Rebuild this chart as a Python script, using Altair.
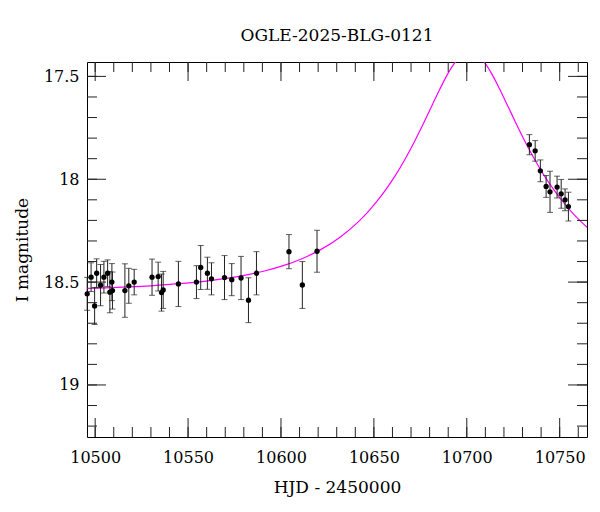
import altair as alt
import pandas as pd

TITLE = "OGLE-2025-BLG-0121"
X_TITLE = "HJD - 2450000"
Y_TITLE = "I magnitude"
FONT = "DejaVu Serif"

obs_hjd = [10495.7, 10497.8, 10499.7, 10500.8, 10502.9, 10504.7, 10506.7, 10507.9,
           10509.0, 10509.3, 10516.0, 10518.1, 10521.0, 10530.6, 10533.9, 10535.7,
           10536.6, 10544.8, 10554.5, 10556.8, 10560.4, 10562.6, 10569.6, 10573.5,
           10578.5, 10582.5, 10586.8, 10604.3, 10611.5, 10619.4,
           10733.7, 10736.8, 10739.6, 10742.7, 10744.8, 10748.6, 10750.8, 10752.9, 10754.7]
obs_mag = [18.557, 18.476, 18.616, 18.457, 18.515, 18.476, 18.457, 18.549,
           18.500, 18.541, 18.541, 18.518, 18.500, 18.476, 18.473, 18.551,
           18.538, 18.509, 18.500, 18.429, 18.457, 18.484, 18.478, 18.488,
           18.480, 18.588, 18.457, 18.352, 18.514, 18.350,
           17.832, 17.862, 17.959, 18.035, 18.061, 18.038, 18.071, 18.100, 18.133]
obs_err = [0.080, 0.070, 0.090, 0.070, 0.100, 0.077, 0.065, 0.100,
           0.090, 0.090, 0.130, 0.085, 0.062, 0.088, 0.070, 0.090,
           0.090, 0.110, 0.080, 0.107, 0.078, 0.078, 0.107, 0.078,
           0.105, 0.109, 0.105, 0.083, 0.114, 0.102,
           0.049, 0.050, 0.053, 0.053, 0.100, 0.053, 0.070, 0.053, 0.070]

# model curve
model_hjd = [10495.0, 10501.6, 10511.6, 10521.6, 10531.6, 10541.6, 10551.6, 10561.6,
             10571.6, 10581.6, 10591.6, 10601.6, 10611.6, 10621.6, 10631.6, 10641.6,
             10646.6, 10651.6, 10656.6, 10661.6, 10666.6, 10671.6, 10676.6, 10681.6,
             10685.6, 10689.6, 10693.6, 10697.6, 10701.6, 10705.6, 10709.6, 10713.6,
             10717.6, 10721.6, 10726.6, 10731.6, 10736.6, 10741.6, 10746.6, 10751.6,
             10756.6, 10761.6, 10765.0]
model_mag = [18.531, 18.529, 18.526, 18.522, 18.517, 18.510, 18.503, 18.493,
             18.481, 18.465, 18.445, 18.419, 18.385, 18.341, 18.283, 18.207,
             18.161, 18.108, 18.048, 17.981, 17.905, 17.821, 17.730, 17.635,
             17.560, 17.490, 17.433, 17.394, 17.381, 17.394, 17.433, 17.490,
             17.560, 17.635, 17.730, 17.821, 17.905, 17.981, 18.048, 18.108,
             18.161, 18.207, 18.235]

x_major = [10500, 10550, 10600, 10650, 10700, 10750]
x_minor = [10500, 10510, 10520, 10530, 10540, 10550, 10560, 10570, 10580, 10590,
           10600, 10610, 10620, 10630, 10640, 10650, 10660, 10670, 10680, 10690,
           10700, 10710, 10720, 10730, 10740, 10750, 10760]
y_major = [17.5, 18.0, 18.5, 19.0]
y_minor = [17.5, 17.6, 17.7, 17.8, 17.9, 18.0, 18.1, 18.2, 18.3, 18.4, 18.5,
           18.6, 18.7, 18.8, 18.9, 19.0, 19.1, 19.2]

W, H = 500, 375
MAJ, MIN = 19, 10

obs = pd.DataFrame({"t": obs_hjd, "m": obs_mag, "e": obs_err})
obs["lo"] = obs["m"] - obs["e"]
obs["hi"] = obs["m"] + obs["e"]
model = pd.DataFrame({"t": model_hjd, "m": model_mag})

xs = alt.Scale(domain=[10495.6, 10764.7], nice=False, zero=False)
ys = alt.Scale(domain=[17.43, 19.253], reverse=True, nice=False, zero=False)

x_axis = alt.Axis(title=X_TITLE, values=x_major, format="d", ticks=False, tickSize=0,
                  domain=False, grid=False, labelPadding=12, titlePadding=14)
y_axis = alt.Axis(title=Y_TITLE, values=y_major, format="~g", ticks=False, tickSize=0,
                  domain=False, grid=False, labelPadding=8, titlePadding=12)

line = alt.Chart(model).mark_line(color="#ff00ff", strokeWidth=1.2, clip=True,
                                  interpolate="monotone").encode(
    x=alt.X("t:Q", scale=xs, axis=x_axis),
    y=alt.Y("m:Q", scale=ys, axis=y_axis),
)

EC = "#222222"
bars = alt.Chart(obs).mark_rule(color=EC, strokeWidth=1).encode(
    x="t:Q", y="lo:Q", y2="hi:Q")
cap_lo = alt.Chart(obs).mark_tick(color=EC, orient="horizontal", size=6,
                                  thickness=1).encode(x="t:Q", y="lo:Q")
cap_hi = alt.Chart(obs).mark_tick(color=EC, orient="horizontal", size=6,
                                  thickness=1).encode(x="t:Q", y="hi:Q")
pts = alt.Chart(obs).mark_circle(color="black", opacity=1, size=28).encode(
    x="t:Q", y="m:Q")

TC = "#222222"
xmaj = pd.DataFrame({"t": x_major})
xmin = pd.DataFrame({"t": x_minor})
ymaj = pd.DataFrame({"m": y_major})
ymin = pd.DataFrame({"m": y_minor})

def xticks(df, length):
    b = alt.Chart(df).mark_rule(color=TC, strokeWidth=1).encode(
        x="t:Q", y=alt.value(H), y2=alt.value(H - length))
    t = alt.Chart(df).mark_rule(color=TC, strokeWidth=1).encode(
        x="t:Q", y=alt.value(0), y2=alt.value(length))
    return [b, t]

def yticks(df, length):
    l = alt.Chart(df).mark_rule(color=TC, strokeWidth=1).encode(
        y="m:Q", x=alt.value(0), x2=alt.value(length))
    r = alt.Chart(df).mark_rule(color=TC, strokeWidth=1).encode(
        y="m:Q", x=alt.value(W), x2=alt.value(W - length))
    return [l, r]

layers = [line] + xticks(xmaj, MAJ) + xticks(xmin, MIN) + yticks(ymaj, MAJ) + yticks(ymin, MIN) \
    + [bars, cap_lo, cap_hi, pts]

chart = alt.layer(*layers).properties(
    width=W, height=H,
    background="white",
    title=alt.TitleParams(TITLE, font=FONT, fontSize=17, fontWeight="normal",
                          anchor="middle", offset=17, color="black"),
    padding={"left": 79, "top": 54, "right": 5, "bottom": 60},
    autosize=alt.AutoSizeParams(type="none"),
).configure_view(stroke="black", strokeWidth=1).configure_axis(
    labelFont=FONT, titleFont=FONT, labelFontSize=16, titleFontSize=17,
    labelColor="black", titleColor="black", titleFontWeight="normal",
)

chart.save("out.html", embed_options={"renderer": "svg", "actions": False})
